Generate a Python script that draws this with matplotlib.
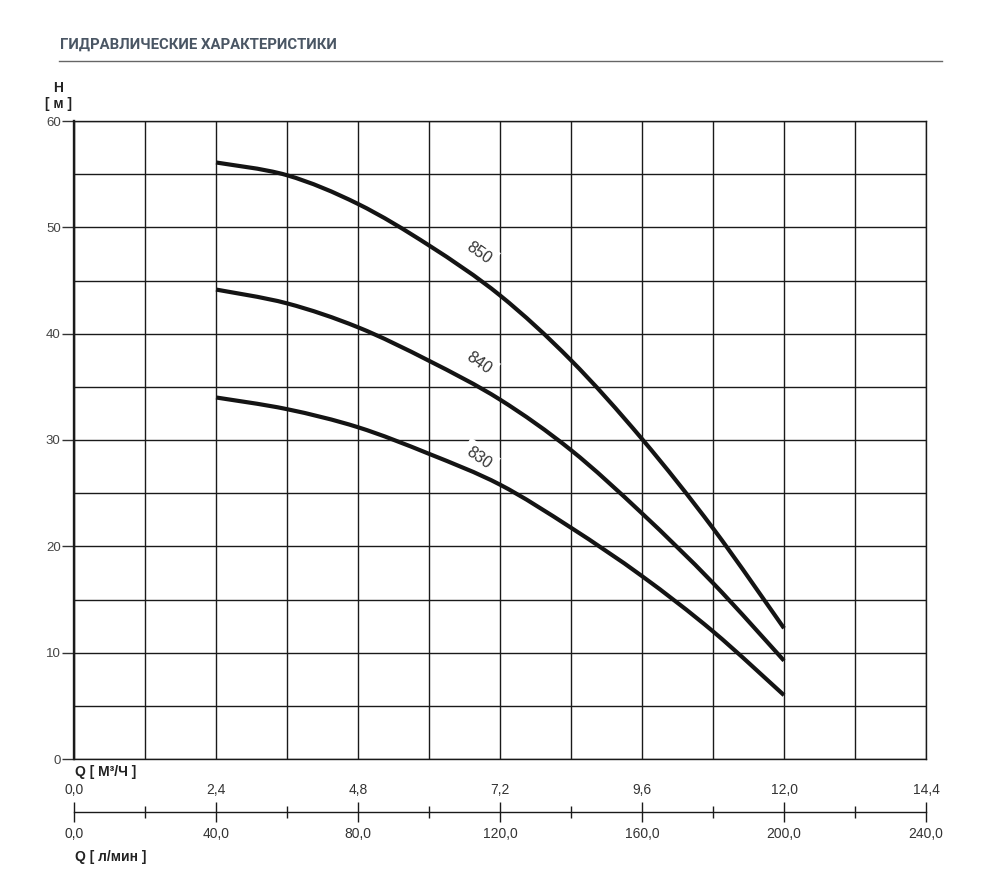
import matplotlib
matplotlib.use("Agg")
import matplotlib.pyplot as plt
from matplotlib.ticker import MultipleLocator, FixedLocator
from matplotlib.path import Path
from matplotlib.patches import PathPatch

# ---- data ----
q_m3h = [2.4, 3.6, 4.8, 6.0, 7.2, 8.4, 9.6, 10.8, 12.0]
h_850 = [56.1, 54.9, 52.2, 48.3, 43.6, 37.5, 30.1, 21.7, 12.3]
h_840 = [44.15, 42.85, 40.6, 37.45, 33.8, 29.05, 23.1, 16.55, 9.25]
h_830 = [34.0, 32.9, 31.2, 28.7, 25.8, 21.75, 17.2, 12.0, 6.0]
series_names = ["850", "840", "830"]
label_pos = [(6.845, 47.6), (6.845, 37.2), (6.845, 28.3)]

y_ticks = [0, 10, 20, 30, 40, 50, 60]
q_ticks = [0.0, 2.4, 4.8, 7.2, 9.6, 12.0, 14.4]
q_tick_labels = ["0,0", "2,4", "4,8", "7,2", "9,6", "12,0", "14,4"]
lmin_tick_labels = ["0,0", "40,0", "80,0", "120,0", "160,0", "200,0", "240,0"]

title = "ГИДРАВЛИЧЕСКИЕ ХАРАКТЕРИСТИКИ"

W, H = 995, 884
fig = plt.figure(figsize=(W / 100, H / 100), dpi=100)
fig.patch.set_facecolor("white")

def fx(px):
    return px / W

def fy(py):
    return 1 - py / H

def smooth_path(xs, ys):
    """Catmull-Rom curve through the read points, as cubic Bezier segments."""
    pts = list(zip(xs, ys))
    verts = [pts[0]]
    codes = [Path.MOVETO]
    n = len(pts)
    for i in range(n - 1):
        p0 = pts[i - 1] if i > 0 else pts[i]
        p1 = pts[i]
        p2 = pts[i + 1]
        p3 = pts[i + 2] if i + 2 < n else pts[i + 1]
        c1 = (p1[0] + (p2[0] - p0[0]) / 6, p1[1] + (p2[1] - p0[1]) / 6)
        c2 = (p2[0] - (p3[0] - p1[0]) / 6, p2[1] - (p3[1] - p1[1]) / 6)
        verts += [c1, c2, p2]
        codes += [Path.CURVE4] * 3
    return Path(verts, codes)

# ---- main axes ----
left, right, top, bottom = 74, 926, 121, 759
ax = fig.add_axes([fx(left), fy(bottom), (right - left) / W, (bottom - top) / H])
ax.set_xlim(0, 14.4)
ax.set_ylim(0, 60)
ax.xaxis.set_major_locator(MultipleLocator(1.2))
ax.yaxis.set_major_locator(FixedLocator(y_ticks))
ax.yaxis.set_minor_locator(MultipleLocator(5))
ax.grid(True, which="both", color="#1a1a1a", linewidth=1.0)
ax.set_axisbelow(True)
ax.tick_params(axis="x", length=0, labelbottom=False)
ax.tick_params(axis="y", which="major", length=8.6, width=1.0, color="#333333",
               labelsize=9.5, labelcolor="#444444", pad=1)
ax.tick_params(axis="y", which="minor", length=0)
for lab in ax.get_yticklabels():
    lab.set_fontfamily("Liberation Sans")
for side in ["top", "right", "bottom"]:
    ax.spines[side].set_linewidth(1.0)
    ax.spines[side].set_color("#1a1a1a")
ax.spines["left"].set_linewidth(1.7)
ax.spines["left"].set_color("#1a1a1a")

for name, hv, (lx, ly) in zip(series_names, [h_850, h_840, h_830], label_pos):
    patch = PathPatch(smooth_path(q_m3h, hv), facecolor="none", edgecolor="#141414",
                      linewidth=3.0, capstyle="butt", zorder=4, transform=ax.transData)
    ax.add_patch(patch)
    ax.text(lx, ly, name, rotation=-35, ha="center", va="center", fontsize=11.5,
            color="#333333", family="Liberation Sans", zorder=3,
            bbox=dict(boxstyle="square,pad=0.3", facecolor="white", edgecolor="none"))

# ---- lower double scale ----
line_y = 812
ax2 = fig.add_axes([fx(left), fy(line_y), (right - left) / W, 0.0001])
ax2.set_xlim(0, 14.4)
ax2.set_ylim(0, 1)
ax2.patch.set_visible(False)
for side in ["top", "right", "left"]:
    ax2.spines[side].set_visible(False)
ax2.spines["bottom"].set_linewidth(1.0)
ax2.spines["bottom"].set_color("#1a1a1a")
ax2.set_yticks([])
ax2.xaxis.set_major_locator(FixedLocator(q_ticks))
ax2.xaxis.set_minor_locator(FixedLocator([1.2, 3.6, 6.0, 8.4, 10.8, 13.2]))
ax2.set_xticklabels(lmin_tick_labels)
ax2.tick_params(axis="x", which="major", direction="inout", length=15, width=1.0,
                color="#1a1a1a", labelsize=10, labelcolor="#333333", pad=3)
ax2.tick_params(axis="x", which="minor", direction="inout", length=8, width=1.0,
                color="#1a1a1a")
for lab in ax2.get_xticklabels():
    lab.set_fontfamily("Liberation Sans")

ax3 = ax2.twiny()
ax3.set_xlim(0, 14.4)
ax3.patch.set_visible(False)
for side in ["top", "right", "left", "bottom"]:
    ax3.spines[side].set_visible(False)
ax3.xaxis.set_major_locator(FixedLocator(q_ticks))
ax3.set_xticklabels(q_tick_labels)
ax3.tick_params(axis="x", which="major", length=0, labelsize=10, labelcolor="#333333", pad=11)
for lab in ax3.get_xticklabels():
    lab.set_fontfamily("Liberation Sans")

# ---- texts ----
fig.text(fx(60), fy(45), title, ha="left", va="center", fontsize=10.7, fontweight="bold",
         color="#4a5664", family="Roboto")
fig.add_artist(plt.Line2D([fx(59), fx(942)], [fy(61), fy(61)], color="#666666", linewidth=1.0))

fig.text(fx(58), fy(88), "H", ha="center", va="center", fontsize=10, fontweight="bold",
         color="#222222", family="Liberation Sans")
fig.text(fx(58.5), fy(104), "[ м ]", ha="center", va="center", fontsize=10, fontweight="bold",
         color="#222222", family="Liberation Sans")
fig.text(fx(75), fy(772), "Q [ М³/Ч ]", ha="left", va="center", fontsize=10, fontweight="bold",
         color="#222222", family="Liberation Sans")
fig.text(fx(75), fy(857), "Q [ л/мин ]", ha="left", va="center", fontsize=10, fontweight="bold",
         color="#222222", family="Liberation Sans")

fig.savefig("out.png", dpi=100, facecolor="white")
